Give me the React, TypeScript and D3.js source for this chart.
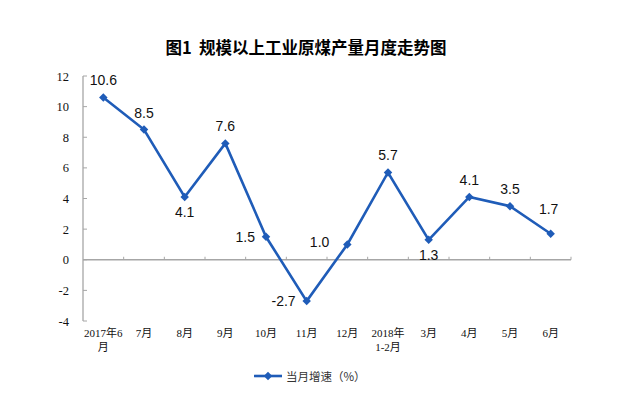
import React, { useEffect, useRef } from "react";
import * as d3 from "d3";

const months = ["2017年6月", "7月", "8月", "9月", "10月", "11月", "12月", "2018年1-2月", "3月", "4月", "5月", "6月"];
const tickLines = [["2017年6", "月"], ["7月"], ["8月"], ["9月"], ["10月"], ["11月"], ["12月"], ["2018年", "1-2月"], ["3月"], ["4月"], ["5月"], ["6月"]];
const growth = [10.6, 8.5, 4.1, 7.6, 1.5, -2.7, 1.0, 5.7, 1.3, 4.1, 3.5, 1.7];
// where each value label sits relative to its point
const labelPos = ["n", "n", "s", "n", "w", "w", "ww", "n", "s", "n", "n", "nn"];
const yTicks = [-4, -2, 0, 2, 4, 6, 8, 10, 12];

const W = 628;
const H = 397;
const blue = "#1f5cb8";
const grey = "#a6a6a6";
const cjk = "'Noto Sans CJK SC', sans-serif";

function App() {
  const svgRef = useRef<SVGSVGElement>(null);

  useEffect(() => {
    const svg = d3.select(svgRef.current);
    svg.selectAll("*").remove();

    const x = d3.scaleBand().domain(months).range([83, 571]);
    const y = d3.scaleLinear().domain([-4, 12]).range([321, 76]);
    const cx = (d: string) => (x(d) as number) + x.bandwidth() / 2;

    // title
    svg.append("text")
      .attr("x", 306).attr("y", 54)
      .attr("text-anchor", "middle")
      .attr("font-family", cjk)
      .attr("font-weight", "bold")
      .attr("font-size", 16.5)
      .attr("fill", "#000")
      .style("white-space", "pre")
      .text("图1  规模以上工业原煤产量月度走势图");

    // y axis
    svg.append("line")
      .attr("x1", 83).attr("x2", 83)
      .attr("y1", y(12)).attr("y2", y(-4))
      .attr("stroke", grey).attr("stroke-width", 1.3);
    svg.selectAll(".ytick").data(yTicks).enter().append("line")
      .attr("x1", 83).attr("x2", 87)
      .attr("y1", d => y(d)).attr("y2", d => y(d))
      .attr("stroke", grey);
    svg.selectAll(".ylab").data(yTicks).enter().append("text")
      .attr("x", 69).attr("y", d => y(d) + 4.5)
      .attr("text-anchor", "end")
      .attr("font-family", "'Liberation Serif', serif")
      .attr("font-size", 12.5)
      .attr("fill", "#111")
      .text(d => d);

    // zero line with small ticks at band edges
    svg.append("line")
      .attr("x1", 83).attr("x2", 571)
      .attr("y1", y(0)).attr("y2", y(0))
      .attr("stroke", grey).attr("stroke-width", 1.3);
    svg.selectAll(".xtick").data(months).enter().append("line")
      .attr("x1", d => (x(d) as number) + x.bandwidth())
      .attr("x2", d => (x(d) as number) + x.bandwidth())
      .attr("y1", y(0)).attr("y2", y(0) - 3)
      .attr("stroke", grey);

    // x labels
    const xl = svg.selectAll(".xlab").data(months).enter().append("text")
      .attr("text-anchor", "middle")
      .attr("font-family", "'Liberation Serif', " + cjk)
      .attr("font-size", 11)
      .attr("fill", "#111");
    xl.each(function (d, i) {
      const t = d3.select(this);
      tickLines[i].forEach((s, j) => {
        t.append("tspan").attr("x", cx(d)).attr("y", 337 + j * 14).text(s);
      });
    });

    // line and markers
    const pts = months.map((m, i) => ({ m, v: growth[i], p: labelPos[i] }));
    const line = d3.line<{ m: string; v: number }>().x(d => cx(d.m)).y(d => y(d.v));
    svg.append("path").datum(pts)
      .attr("d", line)
      .attr("fill", "none")
      .attr("stroke", blue)
      .attr("stroke-width", 2.6);
    const diamond = d3.symbol().type(d3.symbolSquare).size(36);
    svg.selectAll(".mk").data(pts).enter().append("path")
      .attr("d", diamond)
      .attr("transform", d => `translate(${cx(d.m)},${y(d.v)}) rotate(45)`)
      .attr("fill", blue);

    // value labels
    const off: Record<string, [number, number, string]> = {
      n: [0, -12, "middle"],
      nn: [-2, -20, "middle"],
      s: [0, 20, "middle"],
      w: [-11, 5, "end"],
      ww: [-18, 3, "end"],
    };
    svg.selectAll(".vl").data(pts).enter().append("text")
      .attr("x", d => cx(d.m) + off[d.p][0])
      .attr("y", d => y(d.v) + off[d.p][1])
      .attr("text-anchor", d => off[d.p][2])
      .attr("font-family", "'Liberation Sans', Arial, sans-serif")
      .attr("font-size", 14)
      .attr("fill", "#111")
      .text(d => d.v.toFixed(1));

    // legend
    svg.append("line")
      .attr("x1", 254).attr("x2", 282)
      .attr("y1", 376).attr("y2", 376)
      .attr("stroke", blue).attr("stroke-width", 2.6);
    svg.append("path").attr("d", diamond).attr("transform", "translate(268,376) rotate(45)").attr("fill", blue);
    svg.append("text")
      .attr("x", 286).attr("y", 380.5)
      .attr("font-family", cjk)
      .attr("font-size", 11.5)
      .attr("fill", "#333")
      .text("当月增速（%）");
  }, []);

  return <svg ref={svgRef} width={W} height={H} style={{ display: "block", position: "absolute", left: 0, top: 0, background: "#fff" }} />;
}

export default App;
